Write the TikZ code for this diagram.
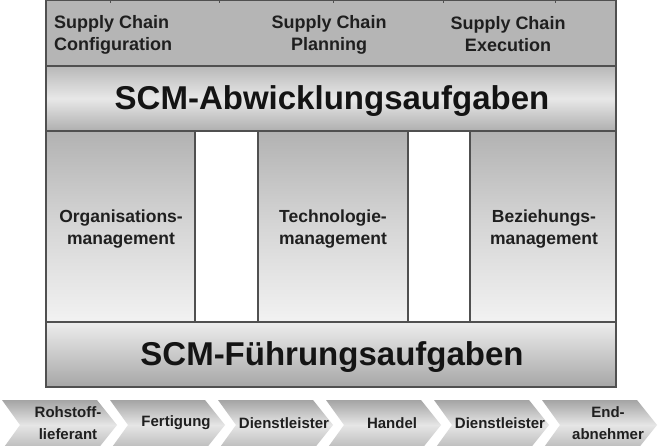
\documentclass[tikz,border=0pt]{standalone}
\usepackage{fontspec}
\setmainfont{Liberation Sans}
\definecolor{hdr}{HTML}{B5B5B5}
\definecolor{edge}{HTML}{505050}
\definecolor{bandgray}{HTML}{B8B8B8}
\definecolor{bandlight}{HTML}{E8E8E8}
\definecolor{coltop}{HTML}{B2B2B2}
\definecolor{colmid}{HTML}{D6D6D6}
\definecolor{colbot}{HTML}{F2F2F2}
\definecolor{fuetop}{HTML}{EDEDED}
\definecolor{fuebot}{HTML}{A6A6A6}
\definecolor{chtop}{HTML}{A4A4A4}
\definecolor{chmid}{HTML}{E6E6E6}
\definecolor{chbot}{HTML}{B8B8B8}
\tikzset{
  frameline/.style={draw=edge, line width=1.2pt},
  hdrtext/.style={font=\bfseries\fontsize{18}{22}\selectfont, align=center, inner sep=0pt, text=black!88},
  coltext/.style={font=\bfseries\fontsize{17.5}{22}\selectfont, align=center, inner sep=0pt, text=black!88},
  bigtext/.style={font=\bfseries\fontsize{33}{36}\selectfont, inner sep=0pt, text=black!92},
  chtext/.style={font=\bfseries\fontsize{15}{22}\selectfont, align=center, inner sep=0pt, text=black!88},
  chevronshape/.style={top color=chtop, bottom color=chbot, middle color=chmid}
}
\begin{document}
\begin{tikzpicture}[x=1pt,y=-1pt]
\clip (0,0) rectangle (671,446);
\fill[white] (0,0) rectangle (671,446);
% header row
\fill[hdr] (46,0) rectangle (616,66);
% Abwicklung band
\shade[top color=bandgray, bottom color=bandgray!95!black, middle color=bandlight] (46,66) rectangle (616,131);
% columns
\foreach \a/\b in {46/195, 258/408, 470/616}{
  \shade[top color=coltop, bottom color=colbot, middle color=colmid] (\a,131) rectangle (\b,322);
}
% Fuehrung band
\shade[top color=fuetop, bottom color=fuebot] (46,322) rectangle (616,387);
% lines
\draw[frameline] (46,0) rectangle (616,387);
\draw[frameline] (46,66) -- (616,66);
\draw[frameline] (46,131) -- (616,131);
\draw[frameline] (46,322) -- (616,322);
\foreach \x in {195,258,408,470}{ \draw[frameline] (\x,131) -- (\x,322); }
\foreach \x in {110,219,333,443,555}{ \draw[edge, line width=1pt] (\x,0) -- (\x,3); }
% header texts
\node[hdrtext, align=left, anchor=west] (cfg) at (54,35) {Supply Chain\\Configuration};
\node[hdrtext] (pln) at (329,35) {Supply Chain\\Planning};
\node[hdrtext] (exe) at (508,34) {Supply Chain\\Execution};
\node[bigtext] (abw) at (332,101) {SCM-Abwicklungsaufgaben};
\node[coltext] (org) at (121,229) {Organisations-\\management};
\node[coltext] (tec) at (333,229) {Technologie-\\management};
\node[coltext] (bez) at (544,229) {Beziehungs-\\management};
\node[bigtext] (fue) at (332,357) {SCM-Führungsaufgaben};
% chevrons
\foreach \i/\t in {0/{Rohstoff-\\lieferant},1/{Fertigung},2/{Dienstleister},3/{Handel},4/{Dienstleister},5/{End-\\abnehmer}}{
  \pgfmathsetmacro{\L}{2+108*\i}
  \shade[chevronshape] (\L,400) -- (\L+95,400) -- (\L+115,425) -- (\L+95,450) -- (\L,450) -- (\L+18,425) -- cycle;
  \node[chtext] (ch\i) at (\L+66,423) {\t};
}
\end{tikzpicture}
\end{document}
